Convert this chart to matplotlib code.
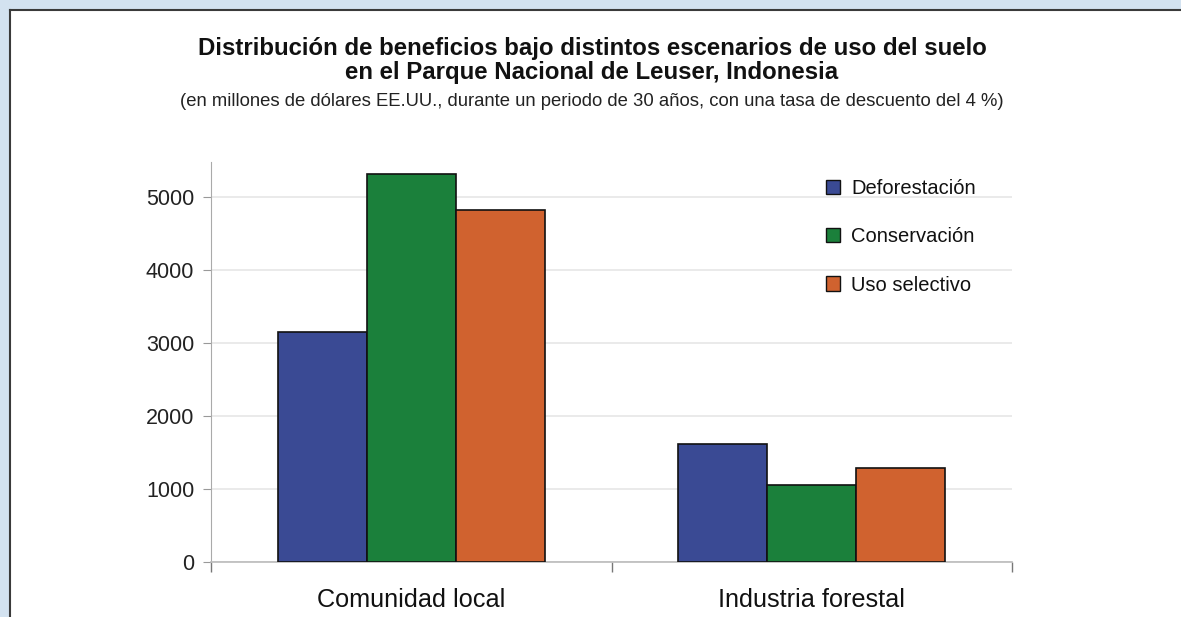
import matplotlib
matplotlib.use("Agg")
import matplotlib.pyplot as plt
from matplotlib.patches import Rectangle, Patch
from matplotlib.lines import Line2D
import numpy as np

plt.rcParams['font.family'] = ['Liberation Sans', 'DejaVu Sans']

categories = ["Comunidad local", "Industria forestal"]
series_names = ["Deforestación", "Conservación", "Uso selectivo"]
deforestacion = [3150, 1615]
conservacion = [5315, 1055]
uso_selectivo = [4820, 1290]
yticks = [0, 1000, 2000, 3000, 4000, 5000]
colors = ["#3a4a94", "#1b803b", "#d0622f"]

W, H = 1181, 617
fig = plt.figure(figsize=(W / 100, H / 100), dpi=100)
fig.patch.set_facecolor("#d3e2f0")

# white panel with dark left/top border
x0 = 10 / W
y1 = 1 - 10 / H
fig.patches.append(Rectangle((x0, 0), 1 - x0, y1, transform=fig.transFigure,
                             facecolor="white", edgecolor="none", zorder=-10))
fig.lines.append(Line2D([x0, x0], [0, y1], transform=fig.transFigure, color="#3a3a3a", lw=1.5, zorder=-5))
fig.lines.append(Line2D([x0, 1], [y1, y1], transform=fig.transFigure, color="#3a3a3a", lw=1.5, zorder=-5))

ax = fig.add_axes([211 / W, 55 / H, 801 / W, 400 / H])
ax.set_facecolor("none")

x = np.arange(len(categories))
bw = 0.222
data = [deforestacion, conservacion, uso_selectivo]
for i, (vals, c) in enumerate(zip(data, colors)):
    ax.bar(x + (i - 1) * bw, vals, width=bw, color=c, edgecolor="#111111",
           linewidth=1.2, zorder=3)

ax.set_xlim(-0.5, 1.5)
ax.set_ylim(0, 5480)
ax.set_yticks(yticks)
ax.set_yticklabels([str(v) for v in yticks], fontsize=15.5, color="#222222")
ax.tick_params(axis="y", length=6, color="#999999", pad=6)
ax.yaxis.grid(True, color="#e6e6e6", lw=1.2, zorder=0)

ax.set_xticks([-0.5, 0.5, 1.5])
ax.set_xticklabels([])
ax.tick_params(axis="x", length=7, color="#777777", width=1)
for xi, cat in zip(x, categories):
    ax.text(xi, -0.065, cat, transform=ax.get_xaxis_transform(), ha="center", va="top",
            fontsize=18.2, color="#111111")

for s in ["top", "right"]:
    ax.spines[s].set_visible(False)
ax.spines["left"].set_color("#aaaaaa")
ax.spines["bottom"].set_color("#bbbbbb")
ax.spines["bottom"].set_linewidth(1.2)

handles = [Patch(facecolor=c, edgecolor="#111111", linewidth=1.0) for c in colors]
leg = fig.legend(handles, series_names, loc="upper left",
                 bbox_to_anchor=(808 / W, 1 - 161 / H), frameon=False,
                 fontsize=14.5, handlelength=0.7, handleheight=0.7,
                 handletextpad=0.55, labelspacing=1.45)
for t in leg.get_texts():
    t.set_color("#111111")

fig.text(592 / W, 1 - 48 / H, "Distribución de beneficios bajo distintos escenarios de uso del suelo",
         ha="center", va="center", fontsize=17.3, fontweight="bold", color="#111111")
fig.text(592 / W, 1 - 73 / H, "en el Parque Nacional de Leuser, Indonesia",
         ha="center", va="center", fontsize=17.3, fontweight="bold", color="#111111")
fig.text(592 / W, 1 - 101 / H,
         "(en millones de dólares EE.UU., durante un periodo de 30 años, con una tasa de descuento del 4 %)",
         ha="center", va="center", fontsize=13.3, color="#222222")

fig.savefig("out.png", dpi=100)
